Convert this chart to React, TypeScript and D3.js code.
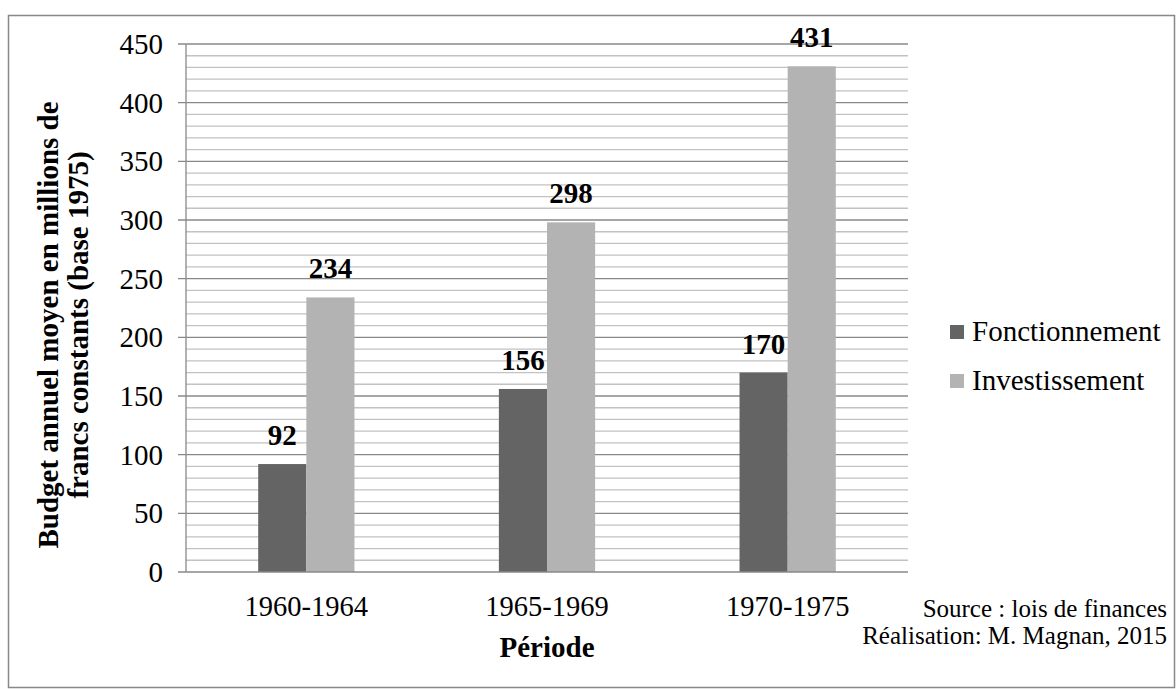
import * as d3 from 'd3'
import React from 'react'

const periods = ['1960-1964', '1965-1969', '1970-1975']
const seriesNames = ['Fonctionnement', 'Investissement']
const fonctionnement = [92, 156, 170]
const investissement = [234, 298, 431]
const yTicks = [0, 50, 100, 150, 200, 250, 300, 350, 400, 450]
const colors = ['#646464', '#b3b3b3']

export default function App() {
    const ref = React.useRef<SVGSVGElement>(null)

    React.useEffect(() => {
        const svg = d3.select(ref.current)
        svg.selectAll('*').remove()
        const W = 1176, H = 689
        const left = 186, right = 908, top = 44, bottom = 572
        const font = '"Liberation Serif", "Times New Roman", serif'

        svg.append('rect')
            .attr('x', 8.5).attr('y', 15.5).attr('width', W - 10).attr('height', H - 17)
            .attr('fill', 'white').attr('stroke', '#888').attr('stroke-width', 1.5)

        const y = d3.scaleLinear().domain([0, 450]).range([bottom, top])
        const x0 = d3.scaleBand().domain(periods).range([left, right]).paddingInner(0.6).paddingOuter(0.3)
        const x1 = d3.scaleBand().domain(seriesNames).range([0, x0.bandwidth()])

        // minor grid
        const minor = d3.range(0, 451, 10).filter(v => v % 50 !== 0)
        svg.append('g').selectAll('line').data(minor).enter().append('line')
            .attr('x1', left).attr('x2', right)
            .attr('y1', d => y(d)).attr('y2', d => y(d))
            .attr('stroke', '#c2c2c2').attr('stroke-width', 1.3)
        // major grid
        svg.append('g').selectAll('line').data(yTicks.slice(1)).enter().append('line')
            .attr('x1', left - 8).attr('x2', right)
            .attr('y1', d => y(d)).attr('y2', d => y(d))
            .attr('stroke', '#888').attr('stroke-width', 1.3)

        // bars
        const data = periods.map((p, i) => ({ p, vals: [fonctionnement[i], investissement[i]] }))
        const g = svg.append('g').selectAll('g').data(data).enter().append('g')
            .attr('transform', d => `translate(${x0(d.p)},0)`)
        g.selectAll('rect').data(d => d.vals.map((v, j) => ({ v, s: seriesNames[j], j }))).enter()
            .append('rect')
            .attr('x', d => x1(d.s)!)
            .attr('width', x1.bandwidth())
            .attr('y', d => y(d.v))
            .attr('height', d => bottom - y(d.v))
            .attr('fill', d => colors[d.j])
        g.selectAll('text').data(d => d.vals.map((v, j) => ({ v, s: seriesNames[j] }))).enter()
            .append('text')
            .attr('x', d => x1(d.s)! + x1.bandwidth() / 2)
            .attr('y', d => y(d.v) - 19)
            .attr('text-anchor', 'middle')
            .style('font-family', font).style('font-size', '29px').style('font-weight', 'bold')
            .text(d => d.v)

        // axes lines
        svg.append('line').attr('x1', left).attr('x2', left).attr('y1', top).attr('y2', bottom)
            .attr('stroke', '#888').attr('stroke-width', 1.3)
        svg.append('line').attr('x1', left - 8).attr('x2', right).attr('y1', bottom).attr('y2', bottom)
            .attr('stroke', '#888').attr('stroke-width', 1.3)

        svg.append('g').selectAll('text').data(yTicks).enter().append('text')
            .attr('x', 163).attr('y', d => y(d) + 10)
            .attr('text-anchor', 'end')
            .style('font-family', font).style('font-size', '29px')
            .text(d => d)

        svg.append('g').selectAll('text').data(periods).enter().append('text')
            .attr('x', d => x0(d)! + x0.bandwidth() / 2).attr('y', 616)
            .attr('text-anchor', 'middle')
            .style('font-family', font).style('font-size', '28.5px')
            .text(d => d)

        svg.append('text').attr('x', (left + right) / 2).attr('y', 657).attr('text-anchor', 'middle')
            .style('font-family', font).style('font-size', '29px').style('font-weight', 'bold')
            .text('Période')

        const yt = svg.append('text').attr('transform', 'translate(58,325) rotate(-90)')
            .attr('text-anchor', 'middle')
            .style('font-family', font).style('font-size', '29px').style('font-weight', 'bold')
        yt.append('tspan').attr('x', 0).attr('y', 0).text('Budget annuel moyen en millions de')
        yt.append('tspan').attr('x', 0).attr('y', 30).text('francs constants (base 1975)')

        // legend
        const lg = svg.append('g').selectAll('g').data(seriesNames).enter().append('g')
            .attr('transform', (d, i) => `translate(950,${325 + i * 49})`)
        lg.append('rect').attr('x', 0).attr('y', 0).attr('width', 14).attr('height', 14)
            .attr('fill', (d, i) => colors[i])
        lg.append('text').attr('x', 22).attr('y', 16)
            .style('font-family', font).style('font-size', '29px')
            .text(d => d)

        svg.append('text').attr('x', 1167).attr('y', 617).attr('text-anchor', 'end')
            .style('font-family', font).style('font-size', '25px')
            .text('Source : lois de finances')
        svg.append('text').attr('x', 1167).attr('y', 644).attr('text-anchor', 'end')
            .style('font-family', font).style('font-size', '25px')
            .text('Réalisation: M. Magnan, 2015')
    }, [])

    return (
        <svg ref={ref} width={1176} height={689}
            style={{ position: 'absolute', left: 0, top: 0, background: 'white' }} />
    )
}
